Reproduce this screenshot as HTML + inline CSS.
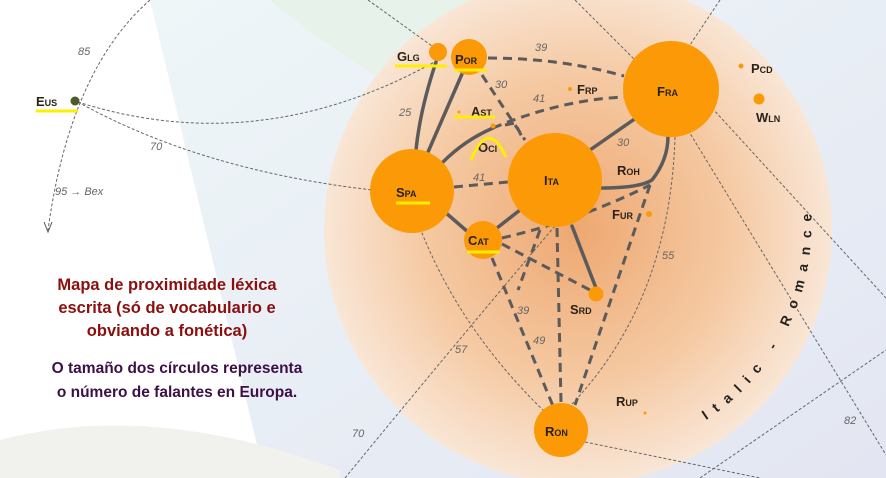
<!DOCTYPE html>
<html><head><meta charset="utf-8"><style>
body{margin:0;width:886px;height:478px;overflow:hidden;background:#fff}
svg{display:block}
.l{font-family:"Liberation Sans",sans-serif;font-size:13px;font-weight:bold;font-variant:small-caps;fill:#2a2218}
.n{font-family:"Liberation Sans",sans-serif;font-size:11px;font-style:italic;fill:#666}
</style></head><body>
<svg width="886" height="478" viewBox="0 0 886 478" xmlns="http://www.w3.org/2000/svg">
<defs>
<radialGradient id="pg" cx="0.5" cy="0.5" r="0.5">
<stop offset="0" stop-color="#eea872"/><stop offset="0.6" stop-color="#f5c9a2"/><stop offset="1" stop-color="#f9e6d6"/>
</radialGradient>
<linearGradient id="rg" x1="0" y1="0" x2="1" y2="1"><stop offset="0" stop-color="#eef6f8"/><stop offset="1" stop-color="#e3e6f2"/></linearGradient>
</defs>
<rect width="886" height="478" fill="#fff"/>
<path d="M150 0 L886 0 L886 478 L265 478 Z" fill="url(#rg)"/>
<path d="M270 0 L560 0 Q480 60 440 110 Q340 60 270 0Z" fill="#e6f2ea"/>
<path d="M0 440 Q150 400 340 470 L340 478 L0 478Z" fill="#f1f2ee"/>
<circle cx="578" cy="230" r="254" fill="url(#pg)"/>
<g fill="none" stroke="#666" stroke-width="1" stroke-dasharray="3,2">
<path d="M150 0 Q70 70 48 230"/>
<path d="M78 102 Q260 160 438 60"/>
<path d="M78 102 Q200 170 372 190"/>
<path d="M368 0 L432 46"/>
<path d="M575 0 L635 60"/>
<path d="M720 0 L690 45"/>
<path d="M712 108 L886 298"/>
<path d="M688 130 L886 455"/>
<path d="M420 228 Q460 330 545 412"/>
<path d="M345 478 Q450 350 560 220"/>
<path d="M675 137 Q670 300 572 404"/>
<path d="M585 442 L760 478"/>
<path d="M700 478 L886 350"/>
</g>
<path d="M44 222 L48 232 L52 222" fill="none" stroke="#555" stroke-width="1"/>
<g fill="none" stroke="#5b5b5b" stroke-width="3.5" stroke-linecap="round">
<path d="M436 62 Q420 110 416 150"/>
<path d="M462 74 L428 152"/>
<path d="M443 162 Q465 140 493 128"/>
<path d="M446 213 L468 232"/>
<path d="M497 228 L520 210"/>
<path d="M590 150 L636 118"/>
<path d="M600 188 Q640 188 652 180 Q668 160 668 136"/>
<path d="M572 226 L596 288"/>
</g>
<g fill="none" stroke="#5b5b5b" stroke-width="3" stroke-dasharray="9,6">
<path d="M488 58 Q560 58 624 76"/>
<path d="M493 128 Q560 100 624 97"/>
<path d="M482 75 L525 140"/>
<path d="M505 125 L515 123 L522 137"/>
<path d="M454 187 L508 182"/>
<path d="M502 244 L590 290"/>
<path d="M502 238 Q580 220 650 185"/>
<path d="M492 258 L553 406"/>
<path d="M557 228 L561 402"/>
<path d="M650 185 L575 405"/>
<path d="M540 230 L518 290"/>
</g>
<circle cx="75" cy="101" r="4.5" fill="#4d5a2a"/>
<g fill="#fb9a06">
<circle cx="438" cy="52" r="9"/><circle cx="469" cy="57" r="18"/>
<circle cx="459" cy="112" r="1.5"/><circle cx="493" cy="126" r="2.5"/>
<circle cx="570" cy="89" r="2"/><circle cx="671" cy="89" r="48"/>
<circle cx="741" cy="66" r="2.5"/><circle cx="759" cy="99" r="5.5"/>
<circle cx="412" cy="191" r="42"/><circle cx="555" cy="180" r="47"/>
<circle cx="483" cy="240" r="19"/><circle cx="649" cy="214" r="3"/>
<circle cx="596" cy="294" r="7.5"/><circle cx="561" cy="430" r="27"/>
<circle cx="645" cy="413" r="1.5"/>
</g>
<g class="l">
<text x="36" y="106">Eus</text><text x="397" y="61">Glg</text><text x="455" y="64">Por</text>
<text x="471" y="116">Ast</text><text x="478" y="152">Oci</text><text x="577" y="94">Frp</text>
<text x="657" y="96">Fra</text><text x="751" y="73">Pcd</text><text x="756" y="122">Wln</text>
<text x="396" y="197">Spa</text><text x="544" y="185">Ita</text><text x="468" y="245">Cat</text>
<text x="617" y="175">Roh</text><text x="612" y="219">Fur</text><text x="570" y="314">Srd</text>
<text x="545" y="436">Ron</text><text x="616" y="406">Rup</text>
</g>
<g class="n">
<text x="78" y="55">85</text><text x="150" y="150">70</text><text x="55" y="195">95 → Bex</text>
<text x="399" y="116">25</text><text x="535" y="51">39</text><text x="495" y="88">30</text>
<text x="533" y="102">41</text><text x="617" y="146">30</text><text x="473" y="181">41</text>
<text x="662" y="259">55</text><text x="517" y="314">39</text><text x="533" y="344">49</text>
<text x="455" y="353">57</text><text x="352" y="437">70</text><text x="844" y="424">82</text>
</g>
<g stroke="#ffee00" stroke-width="3" fill="none">
<path d="M36 111 H78"/><path d="M395 66 H447"/><path d="M454 70 H487"/>
<path d="M454 117 H495"/><path d="M396 203 H430"/><path d="M467 252 H500"/>
<path d="M471 160 Q488 118 506 157"/>
</g>
<path id="arc" d="M706 420 A232 232 0 0 0 790 128" fill="none"/>
<text font-family="Liberation Sans,sans-serif" font-size="14" font-weight="bold" fill="#222" letter-spacing="9"><textPath href="#arc">Italic - Romance</textPath></text>
<g font-family="Liberation Sans,sans-serif" font-weight="bold" font-size="16.5" text-anchor="middle">
<text x="167" y="290" fill="#8b0f0f">Mapa de proximidade léxica</text>
<text x="167" y="313" fill="#8b0f0f">escrita (só de vocabulario e</text>
<text x="167" y="336" fill="#8b0f0f">obviando a fonética)</text>
<text x="177" y="373" fill="#3d0f47" font-size="15.5">O tamaño dos círculos representa</text>
<text x="177" y="397" fill="#3d0f47" font-size="15.5">o número de falantes en Europa.</text>
</g>
</svg>
</body></html>
